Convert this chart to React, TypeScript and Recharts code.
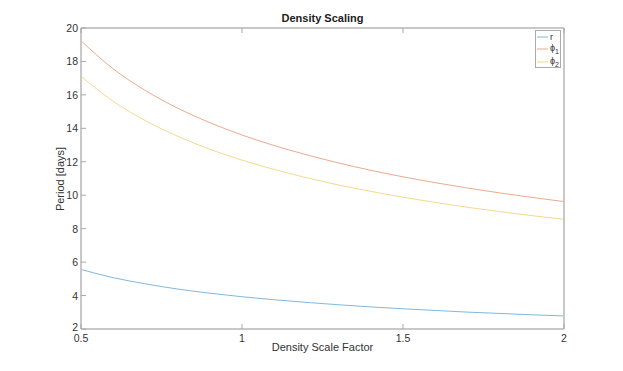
import React from 'react';
import { LineChart, Line, XAxis, YAxis } from 'recharts';

// density scale factor samples
const scale = [0.5, 0.6, 0.7, 0.8, 0.9, 1.0, 1.1, 1.2, 1.3, 1.4, 1.5, 1.6, 1.7, 1.8, 1.9, 2.0];
const rPeriod = [5.56, 5.07, 4.70, 4.39, 4.14, 3.93, 3.75, 3.59, 3.45, 3.32, 3.21, 3.11, 3.01, 2.93, 2.85, 2.78];
const phi1Period = [19.23, 17.56, 16.26, 15.21, 14.34, 13.6, 12.97, 12.42, 11.93, 11.49, 11.1, 10.75, 10.43, 10.14, 9.87, 9.62];
const phi2Period = [17.11, 15.62, 14.46, 13.53, 12.75, 12.1, 11.54, 11.05, 10.61, 10.23, 9.88, 9.57, 9.28, 9.02, 8.78, 8.56];

const xTicks = [0.5, 1, 1.5, 2];
const yTicks = [2, 4, 6, 8, 10, 12, 14, 16, 18, 20];

const COLORS: Record<string, string> = { r: '#0072BD', phi1: '#D95319', phi2: '#EDB120' };
const AXIS = '#c8c8c8';
const TICK = '#a8a8a8';
const FONT = '"Liberation Sans", Arial, sans-serif';

const data = scale.map((s, i) => ({
  s,
  r: rPeriod[i],
  phi1: phi1Period[i],
  phi2: phi2Period[i],
}));

const LeftTick = (props: any) => {
  const { x, y, payload } = props;
  return (
    <g>
      <line x1={x} x2={x + 5} y1={y} y2={y} stroke={TICK} strokeWidth={1} />
      <text x={x - 3} y={y} dy={payload.value === 2 ? 2 : 4} textAnchor="end" fontSize={10.5} fill="#333" fontFamily={FONT}>
        {payload.value}
      </text>
    </g>
  );
};

const RightTick = (props: any) => {
  const { x, y } = props;
  return <line x1={x - 5} x2={x} y1={y} y2={y} stroke={TICK} strokeWidth={1} />;
};

const BottomTick = (props: any) => {
  const { x, y, payload } = props;
  return (
    <g>
      <line x1={x} x2={x} y1={y} y2={y - 5} stroke={TICK} strokeWidth={1} />
      <text x={x} y={y} dy={13} textAnchor="middle" fontSize={10.5} fill="#333" fontFamily={FONT}>
        {payload.value}
      </text>
    </g>
  );
};

const TopTick = (props: any) => {
  const { x, y } = props;
  return <line x1={x} x2={x} y1={y} y2={y + 5} stroke={TICK} strokeWidth={1} />;
};

const LegendBox = () => {
  const items = [
    { key: 'r', label: <span>r</span> },
    { key: 'phi1', label: <span>ϕ<sub style={{ fontSize: 7, verticalAlign: -3 }}>1</sub></span> },
    { key: 'phi2', label: <span>ϕ<sub style={{ fontSize: 7, verticalAlign: -3 }}>2</sub></span> },
  ];
  return (
    <div
      style={{
        position: 'absolute',
        left: 535,
        top: 30,
        boxSizing: 'border-box',
        width: 26,
        height: 38,
        border: '1px solid #aaa',
        background: '#fff',
        padding: '1px 1px 0 1px',
        fontFamily: FONT,
        fontSize: 9,
        color: '#333',
      }}
    >
      {items.map((it, i) => (
        <div key={it.key} style={{ display: 'flex', alignItems: 'center', height: i === 0 ? 10 : 13 }}>
          <svg width={11} height={6} style={{ marginRight: 2, flex: 'none' }}>
            <line x1={0} x2={11} y1={3} y2={3} stroke={COLORS[it.key]} strokeOpacity={0.5} strokeWidth={1} />
          </svg>
          {it.label}
        </div>
      ))}
    </div>
  );
};

export default function App() {
  return (
    <div style={{ position: 'absolute', left: 0, top: 0, width: 623, height: 371, background: '#fff' }}>
      <div
        style={{
          position: 'absolute', left: 81, width: 483, top: 12, textAlign: 'center',
          fontFamily: FONT, fontSize: 11, fontWeight: 'bold', color: '#222',
        }}
      >
        Density Scaling
      </div>
      <div
        style={{
          position: 'absolute', left: 81, width: 483, top: 341, textAlign: 'center',
          fontFamily: FONT, fontSize: 11, color: '#333',
        }}
      >
        Density Scale Factor
      </div>
      <div
        style={{
          position: 'absolute', left: 60, top: 179, fontFamily: FONT, fontSize: 11, color: '#333',
          transform: 'translate(-50%, -50%) rotate(-90deg)', whiteSpace: 'nowrap',
        }}
      >
        Period [days]
      </div>
      <LineChart
        width={623}
        height={371}
        data={data}
        margin={{ top: 27, right: 58, bottom: 12, left: 41 }}
        style={{ position: 'absolute', left: 0, top: 0 }}
      >
        <XAxis
          xAxisId="bottom"
          dataKey="s"
          type="number"
          domain={[0.5, 2]}
          ticks={xTicks}
          axisLine={{ stroke: AXIS, strokeWidth: 2 }}
          tickLine={false}
          tickSize={0}
          tickMargin={0}
          tick={<BottomTick />}
          height={30}
        />
        <XAxis
          xAxisId="top"
          orientation="top"
          dataKey="s"
          type="number"
          domain={[0.5, 2]}
          ticks={xTicks}
          axisLine={{ stroke: AXIS, strokeWidth: 2 }}
          tickLine={false}
          tickSize={0}
          tickMargin={0}
          tick={<TopTick />}
          height={1}
        />
        <YAxis
          yAxisId="left"
          type="number"
          domain={[2, 20]}
          ticks={yTicks}
          axisLine={{ stroke: AXIS, strokeWidth: 2 }}
          tickLine={false}
          tickSize={0}
          tickMargin={0}
          tick={<LeftTick />}
          width={40}
        />
        <YAxis
          yAxisId="right"
          orientation="right"
          type="number"
          domain={[2, 20]}
          ticks={yTicks}
          axisLine={{ stroke: AXIS, strokeWidth: 2 }}
          tickLine={false}
          tickSize={0}
          tickMargin={0}
          tick={<RightTick />}
          width={1}
        />
        <Line xAxisId="bottom" yAxisId="left" dataKey="r" type="monotone" stroke={COLORS.r} strokeOpacity={0.5} strokeWidth={1} dot={false} isAnimationActive={false} />
        <Line xAxisId="bottom" yAxisId="left" dataKey="phi1" type="monotone" stroke={COLORS.phi1} strokeOpacity={0.5} strokeWidth={1} dot={false} isAnimationActive={false} />
        <Line xAxisId="bottom" yAxisId="left" dataKey="phi2" type="monotone" stroke={COLORS.phi2} strokeOpacity={0.5} strokeWidth={1} dot={false} isAnimationActive={false} />
      </LineChart>
      <LegendBox />
    </div>
  );
}
